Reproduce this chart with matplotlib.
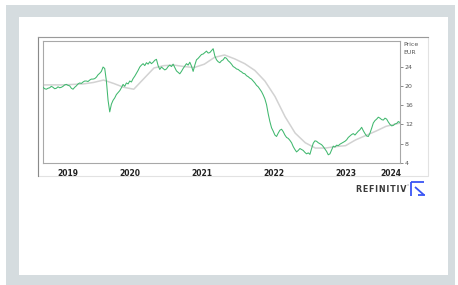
import numpy as np
import pandas as pd
import matplotlib
matplotlib.use("Agg")
import matplotlib.pyplot as plt
from matplotlib.patches import Rectangle
from matplotlib.lines import Line2D

# ── Data ──────────────────────────────────────────────────────────────────────
START = "2019-04-20"
END = "2024-04-03"

price = [
    19.7, 19.4, 19.3, 19.5, 19.6, 19.9, 19.7, 19.4,
    19.5, 19.8, 19.6, 19.7, 19.9, 20.2, 20.3, 20.1,
    20.0, 19.5, 19.3, 19.7, 20.0, 20.4, 20.6, 20.5,
    20.8, 21.0, 21.0, 20.9, 21.2, 21.4, 21.4, 21.5,
    21.8, 22.3, 22.6, 23.0, 23.9, 23.6, 21.0, 17.0,
    14.6, 16.2, 17.0, 17.5, 18.2, 18.6, 19.0, 19.6,
    20.3, 19.9, 20.6, 20.4, 21.0, 20.8, 21.5, 22.0,
    22.6, 23.2, 23.9, 24.3, 24.6, 24.2, 24.8, 24.5,
    25.0, 24.6, 24.9, 25.3, 25.5, 24.2, 23.4, 23.9,
    23.6, 23.3, 23.5, 24.0, 24.3, 24.0, 24.5, 23.8,
    23.1, 22.8, 22.5, 23.0, 23.6, 24.1, 24.6, 24.3,
    24.9, 24.1, 23.0, 24.3, 25.4, 25.7, 26.1, 26.5,
    26.6, 26.9, 27.2, 26.8, 26.9, 27.3, 27.7, 26.2,
    25.4, 25.0, 24.8, 25.2, 25.4, 25.9, 25.7, 25.2,
    24.9, 24.5, 24.0, 23.8, 23.5, 23.4, 23.1, 22.9,
    22.6, 22.5, 22.1, 21.9, 21.6, 21.4, 21.0, 20.6,
    20.1, 19.8, 19.3, 18.8, 18.1, 17.3, 16.1, 14.2,
    12.6, 11.3, 10.6, 9.8, 9.5, 10.2, 10.8, 11.0,
    10.5, 9.8, 9.3, 9.1, 8.7, 8.2, 7.4, 6.8,
    6.3, 6.6, 7.0, 6.8, 6.6, 6.2, 5.9, 6.1,
    5.8, 7.0, 8.1, 8.6, 8.5, 8.2, 8.0, 7.8,
    7.4, 6.9, 6.4, 5.7, 5.9, 6.7, 7.5, 7.3,
    7.7, 7.6, 7.9, 8.1, 8.3, 8.5, 8.8, 9.3,
    9.6, 9.9, 10.1, 9.8, 10.2, 10.6, 10.9, 11.4,
    10.7, 10.1, 9.6, 9.5, 10.2, 11.2, 12.3, 12.8,
    13.1, 13.5, 13.3, 13.0, 12.9, 13.3, 13.1, 12.5,
    12.0, 11.7, 11.8, 12.1, 12.2, 12.6, 12.4,
]

# 200-day average, sampled every ~51 days from START
MA_END = "2024-05-04"
moving_avg = [
    20.2, 20.2, 20.2, 20.3, 20.4, 20.7, 21.2, 20.5, 19.7, 19.3,
    21.5, 23.7, 24.2, 24.3, 24.0, 23.8, 24.5, 25.9, 26.4, 25.6,
    24.6, 23.2, 21.0, 17.8, 13.6, 10.2, 8.2, 7.1, 7.1, 7.4,
    7.6, 8.8, 9.7, 10.6, 11.6, 12.1, 12.5,
]

y_ticks = [4, 8, 12, 16, 20, 24]

# ── Colours ───────────────────────────────────────────────────────────────────
GREEN = "#40b86e"
MA_GRAY = "#d2d2d2"
BAND = "#d5dcdf"
AXIS = "#a8a8a8"
TXT = "#555555"
BLUE = "#3a55f5"

W, H = 458, 285


def fx(px):
    return px / W


def fy(py):
    return 1 - py / H


fig = plt.figure(figsize=(W / 100, H / 100), dpi=100, facecolor="white")

# outer grey band + white card
fig.patches.append(Rectangle((fx(6), 0), fx(449), 1 - 5 / H, transform=fig.transFigure,
                             facecolor=BAND, edgecolor="none", zorder=0))
fig.patches.append(Rectangle((fx(19), fy(275)), fx(429), 258 / H, transform=fig.transFigure,
                             facecolor="white", edgecolor="none", zorder=0))

# chart frame
fig.patches.append(Rectangle((fx(38), fy(176)), fx(390), 139 / H, transform=fig.transFigure,
                             facecolor="white", edgecolor="#e2e2e2", linewidth=0.8, zorder=1))
fig.lines.append(Line2D([fx(38), fx(38)], [fy(37), fy(176)], transform=fig.transFigure,
                        color="#8a8a8a", linewidth=0.8, zorder=2))
fig.lines.append(Line2D([fx(38), fx(428)], [fy(37), fy(37)], transform=fig.transFigure,
                        color="#9a9a9a", linewidth=0.8, zorder=2))

ax = fig.add_axes([fx(43), fy(163), fx(400 - 43), (163 - 41) / H])
ax.set_zorder(3)

price_dates = pd.date_range(START, END, periods=len(price))
ma_dates = pd.date_range(START, MA_END, periods=len(moving_avg))

ax.plot(ma_dates, moving_avg, color=MA_GRAY, linewidth=1.1, zorder=2)
ax.plot(price_dates, price, color=GREEN, linewidth=0.75, zorder=3)

ax.set_xlim(price_dates[0], price_dates[-1])
ax.set_ylim(4, 29.3)

for spine in ax.spines.values():
    spine.set_edgecolor(AXIS)
    spine.set_linewidth(0.8)

# y axis on the right
ax.yaxis.tick_right()
ax.set_yticks(y_ticks)
ax.set_yticklabels([str(v) for v in y_ticks])
ax.tick_params(axis="y", length=2.5, width=0.6, color="#777777", pad=1,
               labelsize=4.5, labelcolor=TXT)

# year labels centred on the visible part of each year
x0, x1 = price_dates[0], price_dates[-1]
mids, years = [], []
for yr in range(x0.year, x1.year + 1):
    a = max(x0, pd.Timestamp(f"{yr}-01-01"))
    b = min(x1, pd.Timestamp(f"{yr + 1}-01-01"))
    mids.append(a + (b - a) / 2)
    years.append(str(yr))
ax.set_xticks(mids)
ax.set_xticklabels(years)
ax.tick_params(axis="x", length=0, pad=4, labelsize=5.5, labelcolor="#222222")
for lbl in ax.get_xticklabels():
    lbl.set_fontweight("bold")

fig.text(fx(403), fy(45), "Price", fontsize=4.5, color=TXT, va="center", ha="left")
fig.text(fx(403), fy(53), "EUR", fontsize=4.5, color=TXT, va="center", ha="left")

# Refinitiv logo
fig.text(fx(406), fy(189), "\u200a".join("REFINITIV"), fontsize=5.8, fontweight="bold",
         color="#3a3a3a", ha="right", va="center", family="DejaVu Sans")
fig.text(fx(407), fy(186), "°", fontsize=3, color="#3a3a3a", ha="left", va="center")
for xs, ys in [
    ([411, 411], [182, 196]),
    ([411, 424], [182, 182]),
    ([415, 424], [187, 195]),
    ([418, 425], [195, 195]),
]:
    fig.lines.append(Line2D([fx(v) for v in xs], [fy(v) for v in ys], transform=fig.transFigure,
                            color=BLUE, linewidth=1.3, solid_capstyle="butt", zorder=4))

fig.savefig("out.png", dpi=100, facecolor="white")
plt.close(fig)
